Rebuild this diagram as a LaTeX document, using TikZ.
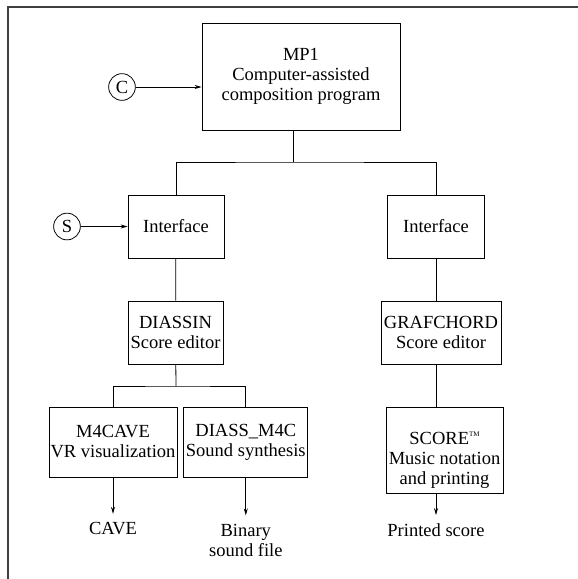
\documentclass[tikz,border=0pt]{standalone}
\usepackage{fontspec}
\setmainfont{Liberation Serif}
\usetikzlibrary{positioning, arrows.meta}

\begin{document}
\begin{tikzpicture}[x=1pt, y=-1pt, line width=0.8pt, font=\fontsize{18.5}{20}\selectfont,
        box/.style={draw, align=center, inner sep=1pt},
        src/.style={draw, circle, minimum size=26.7pt, inner sep=0pt},
        outtext/.style={align=center, inner xsep=0pt, inner ysep=8pt},
        arr/.style={-{Stealth[length=7pt, width=4pt]}}]
        \useasboundingbox (0,0) rectangle (578,579);
        \draw [line width=1.2pt, black!75] (8,579) -- (8,7) -- (578,7);
        % top: the program and its input
        \node (mp1) [box, minimum width=198pt, minimum height=107pt] at (301,76.5) {MP1\\Computer-assisted\\composition program};
        \node (c) [src] at (122,87) {C};
        \draw [arr] (c) -- (c -| mp1.west);
        \coordinate (split) at (293,162);
        \node (iface1) [box, minimum width=96pt, minimum height=63pt] at (176,226.5) {Interface};
        \node (iface2) [box, minimum width=97pt, minimum height=63pt] at (436,226.5) {Interface};
        \draw (mp1.south -| split) -- (split);
        \draw (iface1) |- (split) -| (iface2);
        \node (s) [src] at (67,226.5) {S};
        \draw [arr] (s) -- (iface1);
        % editors
        \node (diassin) [box, minimum width=95pt, minimum height=63pt] at (175.5,332.5) {DIASSIN\\Score editor};
        \node (grafchord) [box, minimum width=120pt, minimum height=63pt] at (441,332.5) {GRAFCHORD\\Score editor};
        \draw (iface1) -- (diassin);
        \draw (iface2) -- (iface2 |- grafchord.north);
        % left branch
        \coordinate (split2) at (176,386);
        \node (m4cave) [box, minimum width=128pt, minimum height=70pt] at (113,442) {M4CAVE\\VR visualization};
        \node (diass) [box, minimum width=124pt, minimum height=70pt, right=6pt of m4cave] {DIASS\_M4C\\Sound synthesis};
        \draw (diassin) -- (split2);
        \draw (m4cave) |- (split2) -| (diass);
        \node (cave) [outtext] at (113,528.5) {CAVE};
        \node (binary) [outtext] at (diass |- 0,540) {Binary\\sound file};
        \draw [arr] (m4cave) -- (cave);
        \draw [arr] (diass) -- (binary);
        % right branch
        \node (score) [box, minimum width=117pt, minimum height=86pt, label={[align=center, yshift=-10pt]center:SCORE\raisebox{0.85ex}{\fontsize{7}{7}\selectfont TM}\\Music notation\\and printing}] at (444.5,450) {};
        \draw (grafchord.south -| iface2) -- (score.north -| iface2);
        \node (printed) [outtext] at (436,530) {Printed score};
        \draw [arr] (score.south -| printed) -- (printed);
    \end{tikzpicture}
\end{document}
